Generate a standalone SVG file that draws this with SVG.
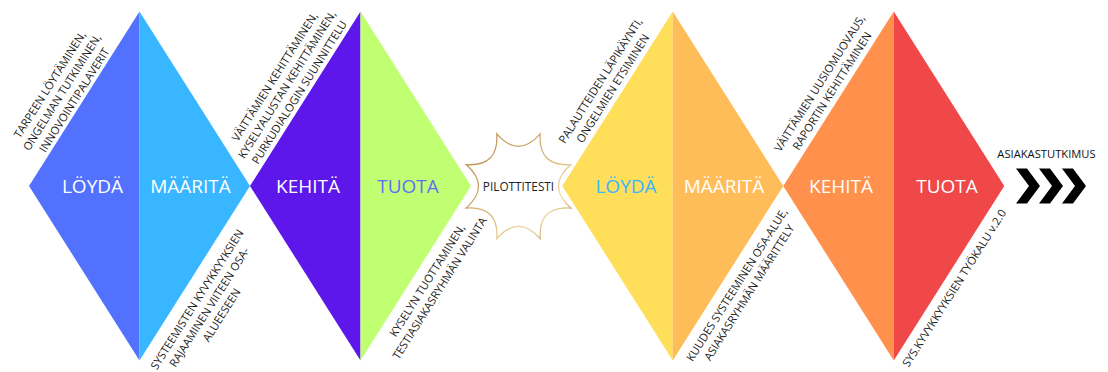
<svg xmlns="http://www.w3.org/2000/svg" width="1108" height="372" viewBox="0 0 1108 372">
<style>
.big{font-family:"Open Sans","Liberation Sans",sans-serif;font-size:19px;font-weight:400;text-anchor:middle;fill:#ffffff}
.note{font-family:"Open Sans","Liberation Sans",sans-serif;font-size:11.2px;text-anchor:middle;fill:#1a1a1a}
.star{fill:#ffffff;stroke:url(#gold);stroke-width:1.3}
.chev{fill:#000000}
</style>
<defs>
<linearGradient id="gold" x1="0" y1="0" x2="1" y2="1">
<stop offset="0" stop-color="#b98a4c"/>
<stop offset="0.5" stop-color="#d9b67a"/>
<stop offset="0.75" stop-color="#f2dba4"/>
<stop offset="1" stop-color="#b48546"/>
</linearGradient>
</defs>
<rect width="1108" height="372" fill="#ffffff"/>

<g id="loyda1">
<polygon points="139.5,11.5 29,186 139.5,360.5" fill="#5271ff"/>
<text class="big" x="92.5" y="193">LÖYDÄ</text>
<g transform="translate(62,92.3) rotate(-57.65)">
<text class="note" x="0" y="-10.5">TARPEEN LÖYTÄMINEN,</text>
<text class="note" x="0" y="4">ONGELMAN TUTKIMINEN,</text>
<text class="note" x="0" y="18.5">INNOVOINTIPALAVERIT</text>
</g>
</g>

<g id="maarita1">
<polygon points="139.5,11.5 250,186 139.5,360.5" fill="#38b6ff"/>
<text class="big" x="190.5" y="193">MÄÄRITÄ</text>
<g transform="translate(209.3,307.2) rotate(-57.65)">
<text class="note" x="0" y="-10.5">SYSTEEMISTEN KYVYKKYYKSIEN</text>
<text class="note" x="0" y="4">RAJAAMINEN VIITEEN OSA-</text>
<text class="note" x="0" y="18.5">ALUEESEEN</text>
</g>
</g>

<g id="kehita1">
<polygon points="360.5,11.5 250,186 360.5,360.5" fill="#5e17eb"/>
<text class="big" x="308" y="193">KEHITÄ</text>
<g transform="translate(287,84.5) rotate(-57.65)">
<text class="note" x="0" y="-10.5">VÄITTÄMIEN KEHITTÄMINEN,</text>
<text class="note" x="0" y="4">KYSELYALUSTAN KEHITTÄMINEN,</text>
<text class="note" x="0" y="18.5">PURKUDIALOGIN SUUNNITTELU</text>
</g>
</g>

<g id="tuota1">
<polygon points="360.5,11.5 471,186 360.5,360.5" fill="#c1ff72"/>
<text class="big" x="408" y="193" style="fill:#5f6ff5">TUOTA</text>
<g transform="translate(433.5,284.4) rotate(-57.65)">
<text class="note" x="0" y="-3.25">KYSELYN TUOTTAMINEN,</text>
<text class="note" x="0" y="11.25">TESTIASIAKASRYHMÄN VALINTA</text>
</g>
</g>

<g id="pilottitesti">
<path class="star" d="M570.88,164.6 Q538.02,166.78 540.2,133.92 Q518.5,158.7 496.8,133.92 Q498.98,166.78 466.12,164.6 Q490.9,186.3 466.12,208 Q498.98,205.82 496.8,238.68 Q518.5,213.9 540.2,238.68 Q538.02,205.82 570.88,208 Q546.1,186.3 570.88,164.6 Z"/>
<text x="518.5" y="190.5" text-anchor="middle" font-family="Open Sans, Liberation Sans, sans-serif" font-size="11.8" fill="#222222">PILOTTITESTI</text>
</g>

<g id="loyda2">
<polygon points="672.75,11.5 562.25,186 672.75,360.5" fill="#ffde59"/>
<text class="big" x="626" y="193" style="fill:#38b6ff">LÖYDÄ</text>
<g transform="translate(606.6,84.5) rotate(-57.65)">
<text class="note" x="0" y="-3.25">PALAUTTEIDEN LÄPIKÄYNTI,</text>
<text class="note" x="0" y="11.25">ONGELMIEN ETSIMINEN</text>
</g>
</g>

<g id="maarita2">
<polygon points="672.75,11.5 783.25,186 672.75,360.5" fill="#ffbd59"/>
<text class="big" x="724" y="193">MÄÄRITÄ</text>
<g transform="translate(743,288.6) rotate(-57.65)">
<text class="note" x="0" y="-3.25">KUUDES SYSTEEMINEN OSA-ALUE,</text>
<text class="note" x="0" y="11.25">ASIAKASRYHMÄN MÄÄRITTELY</text>
</g>
</g>

<g id="kehita2">
<polygon points="893.75,11.5 783.25,186 893.75,360.5" fill="#ff914d"/>
<text class="big" x="841" y="193">KEHITÄ</text>
<g transform="translate(825.8,87) rotate(-57.65)">
<text class="note" x="0" y="-3.25">VÄITTÄMIEN UUSIOMUOVAUS,</text>
<text class="note" x="0" y="11.25">RAPORTIN KEHITTÄMINEN</text>
</g>
</g>

<g id="tuota2">
<polygon points="893.75,11.5 1004.25,186 893.75,360.5" fill="#f04848"/>
<text class="big" x="947" y="193">TUOTA</text>
<g transform="translate(954.3,288.1) rotate(-57.65)">
<text class="note" x="0" y="4">SYS.KYVYKKYYKSIEN TYÖKALU v.2.0</text>
</g>
</g>

<g id="asiakastutkimus">
<text x="1046.5" y="158" text-anchor="middle" font-family="Open Sans, Liberation Sans, sans-serif" font-size="11.2" font-weight="500" fill="#111111">ASIAKASTUTKIMUS</text>
</g>

<g id="connectors">
<polygon class="chev" points="1016,168.5 1027,168.5 1040,186 1027,203.5 1016,203.5 1029,186"/>
<polygon class="chev" points="1039,168.5 1050,168.5 1063,186 1050,203.5 1039,203.5 1052,186"/>
<polygon class="chev" points="1062,168.5 1073,168.5 1086,186 1073,203.5 1062,203.5 1075,186"/>
</g>
</svg>
